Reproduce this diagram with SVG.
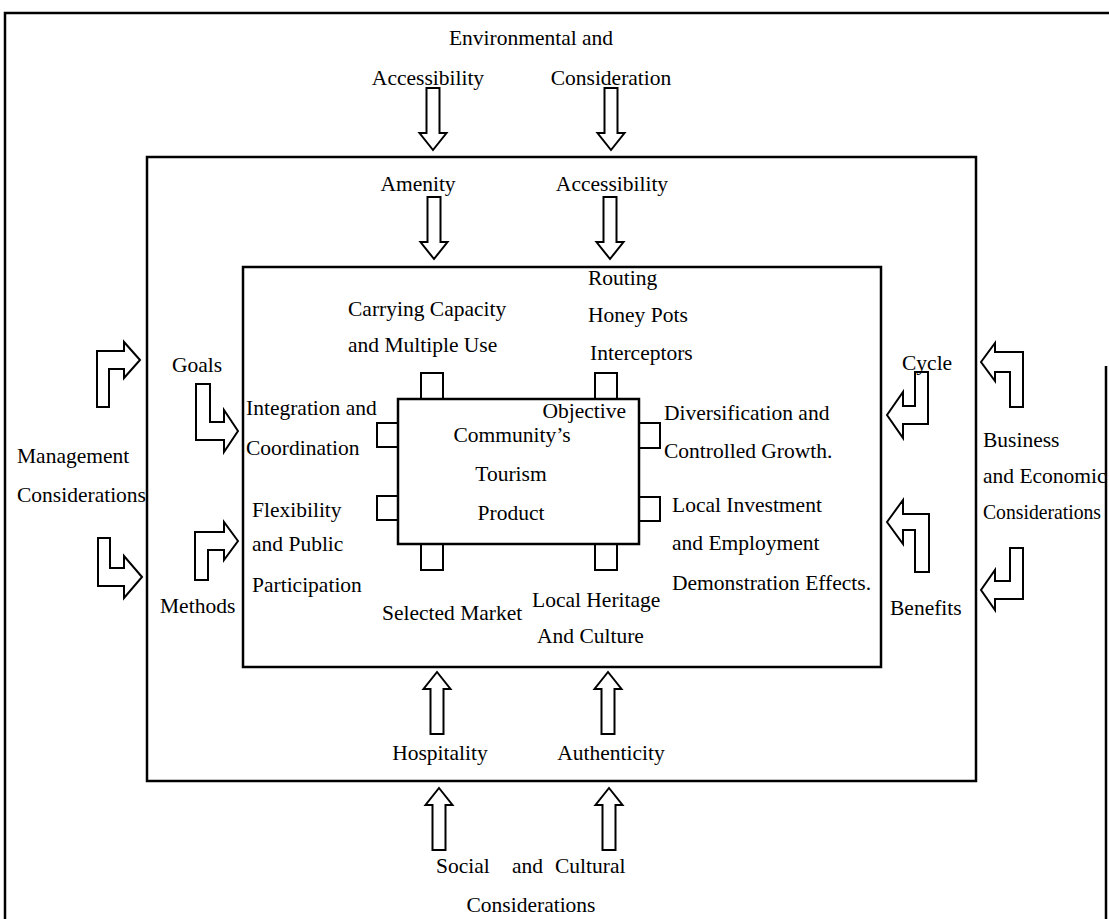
<svg xmlns="http://www.w3.org/2000/svg" xmlns:xlink="http://www.w3.org/1999/xlink" width="1109" height="919" viewBox="0 0 1109 919">
<style>
.frame{fill:none;stroke:#000;stroke-width:2.5}
.box{fill:#fff;stroke:#000;stroke-width:2.5}
.tab{fill:#fff;stroke:#000;stroke-width:2}
.arr{fill:#fff;stroke:#000;stroke-width:2;stroke-linejoin:miter}
text{font-family:"Liberation Serif","Times New Roman",serif;font-size:21.5px;fill:#000}
.m{text-anchor:middle}
.e{text-anchor:end}
</style>
<defs>
<path id="dn" class="arr" d="M-6.5,0 H6.5 V45 H13.5 L0,62 L-13.5,45 H-6.5 Z"/>
</defs>
<rect width="1109" height="919" fill="#fff"/>
<g id="outer-frame">
<path class="frame" d="M5,919 V13 H1109"/>
<path class="frame" d="M1106,366 V919"/>
</g>
<g id="middle-frame"><rect class="frame" x="147" y="157" width="829" height="624"/></g>
<g id="inner-frame"><rect class="frame" x="243" y="267" width="638" height="400"/></g>
<g id="tabs">
<rect class="tab" x="421" y="373" width="22" height="30"/>
<rect class="tab" x="595" y="373" width="22" height="30"/>
<rect class="tab" x="421" y="540" width="22" height="30"/>
<rect class="tab" x="595" y="540" width="22" height="30"/>
<rect class="tab" x="377" y="423" width="25" height="24"/>
<rect class="tab" x="377" y="496" width="25" height="24"/>
<rect class="tab" x="635" y="423" width="25" height="25"/>
<rect class="tab" x="635" y="497" width="25" height="24"/>
</g>
<g id="core">
<rect class="box" x="398" y="399" width="241" height="145"/>
<text x="626" y="418" class="e">Objective</text>
<text x="512" y="442" class="m">Community’s</text>
<text x="511" y="481" class="m">Tourism</text>
<text x="511" y="520" class="m">Product</text>
</g>
<g id="connectors">
<use xlink:href="#dn" transform="translate(433,88)"/>
<use xlink:href="#dn" transform="translate(611,88)"/>
<use xlink:href="#dn" transform="translate(434,197)"/>
<use xlink:href="#dn" transform="translate(610,197)"/>
<use xlink:href="#dn" transform="translate(437,734) scale(1,-1)"/>
<use xlink:href="#dn" transform="translate(608,734) scale(1,-1)"/>
<use xlink:href="#dn" transform="translate(439,850) scale(1,-1)"/>
<use xlink:href="#dn" transform="translate(609,850) scale(1,-1)"/>
<path class="arr" d="M140,360 L124,342 V351 H97 V407 H109 V369 H124 V378 Z"/>
<path class="arr" d="M142,577 L124,556 V568 H110 V538 H98 V586 H124 V598 Z"/>
<path class="arr" d="M238,431 L224,410 V422 H210 V384 H196 V440 H224 V452 Z"/>
<path class="arr" d="M238,541 L224,522 V532 H195 V580 H208 V550 H224 V560 Z"/>
<path class="arr" d="M887,415 L903,392 V406 H915 V372 H928 V424 H903 V438 Z"/>
<path class="arr" d="M887,522 L903,500 V514 H929 V572 H915 V530 H903 V544 Z"/>
<path class="arr" d="M981,362 L995,343 V352 H1023 V407 H1010 V372 H995 V381 Z"/>
<path class="arr" d="M981,590 L995,570 V581 H1010 V548 H1023 V599 H995 V610 Z"/>
</g>
<g id="env-label"><text x="531" y="45" class="m">Environmental and</text></g>
<g id="top-accessibility"><text x="428" y="85" class="m">Accessibility</text></g>
<g id="top-consideration"><text x="611" y="85" class="m">Consideration</text></g>
<g id="amenity"><text x="418" y="191" class="m">Amenity</text></g>
<g id="mid-accessibility"><text x="612" y="191" class="m">Accessibility</text></g>
<g id="routing">
<text x="588" y="285">Routing</text>
<text x="588" y="322">Honey Pots</text>
<text x="590" y="360">Interceptors</text>
</g>
<g id="carrying"><text x="348" y="316">Carrying Capacity</text><text x="348" y="352">and Multiple Use</text></g>
<g id="goals"><text x="172" y="372">Goals</text></g>
<g id="cycle"><text x="902" y="370">Cycle</text></g>
<g id="integration"><text x="246" y="415">Integration and</text><text x="246" y="455">Coordination</text></g>
<g id="diversification"><text x="664" y="420">Diversification and</text><text x="664" y="458">Controlled Growth.</text></g>
<g id="management"><text x="17" y="463">Management</text><text x="17" y="502">Considerations</text></g>
<g id="business"><text x="983" y="447">Business</text><text x="983" y="483">and Economic</text><text x="983" y="519" textLength="118" lengthAdjust="spacingAndGlyphs">Considerations</text></g>
<g id="flexibility"><text x="252" y="517">Flexibility</text><text x="252" y="551">and Public</text><text x="252" y="592">Participation</text></g>
<g id="investment"><text x="672" y="512">Local Investment</text><text x="672" y="550">and Employment</text><text x="672" y="590">Demonstration Effects.</text></g>
<g id="methods"><text x="160" y="613">Methods</text></g>
<g id="benefits"><text x="890" y="615">Benefits</text></g>
<g id="selected-market"><text x="382" y="620">Selected Market</text></g>
<g id="heritage"><text x="532" y="607">Local Heritage</text><text x="537" y="643">And Culture</text></g>
<g id="hospitality"><text x="440" y="760" class="m">Hospitality</text></g>
<g id="authenticity"><text x="611" y="760" class="m">Authenticity</text></g>
<g id="social"><text y="873"><tspan x="436">Social</tspan><tspan x="512">and</tspan><tspan x="555">Cultural</tspan></text><text x="531" y="912" class="m">Considerations</text></g>
</svg>
